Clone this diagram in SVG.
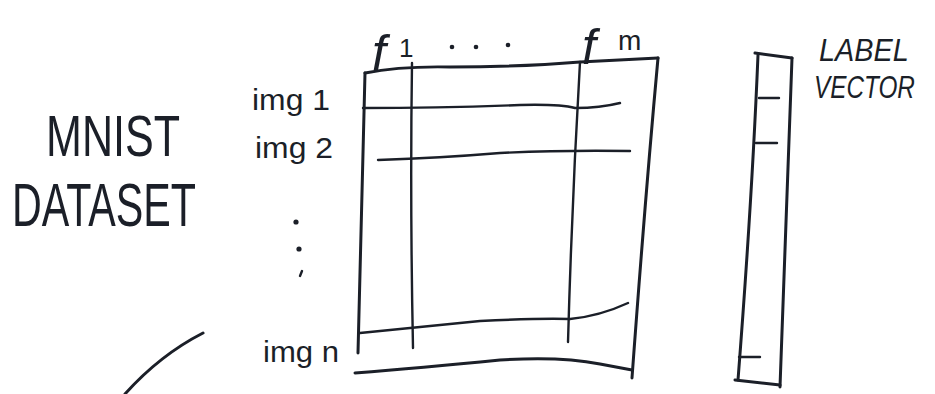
<svg xmlns="http://www.w3.org/2000/svg" width="935" height="394" viewBox="0 0 935 394">
<style>
.ink{fill:none;stroke:#1b1f28;stroke-width:3;stroke-linecap:round;stroke-linejoin:round}
.thin{fill:none;stroke:#1b1f28;stroke-width:2.4;stroke-linecap:round}
.t{fill:#1b1f28;font-family:"Liberation Sans","DejaVu Sans",sans-serif}
.hand{fill:#1b1f28;font-family:"Liberation Sans Narrow","Liberation Sans",sans-serif}
</style>
<rect width="935" height="394" fill="#ffffff"/>
<g id="title">
  <text class="hand" x="46" y="156" font-size="58" textLength="134" lengthAdjust="spacingAndGlyphs">MNIST</text>
  <text class="hand" x="12" y="226" font-size="62" textLength="184" lengthAdjust="spacingAndGlyphs">DATASET</text>
</g>
<g id="matrix">
  <path class="ink" d="M365 73 Q400 66 450 67 Q520 67 580 62 L658 58"/>
  <path class="ink" d="M365 73 Q362 200 358 353"/>
  <path class="ink" d="M658 58 Q645 200 632 378"/>
  <path class="ink" d="M355 373 Q420 368 500 360 Q560 356 600 364 L632 370"/>
  <path class="thin" d="M412 63 Q410 200 413 348"/>
  <path class="thin" d="M580 62 Q572 200 568 342"/>
  <path class="thin" d="M363 108 Q440 108 520 105 Q560 104 575 108 Q600 108 620 103"/>
  <path class="thin" d="M378 160 Q440 158 500 153 Q560 150 630 151"/>
  <path class="thin" d="M360 333 Q420 327 480 321 Q540 318 570 319 Q600 316 628 303"/>
  <text class="t" x="372" y="70" font-size="50" font-style="italic" font-family="Liberation Serif">f</text>
  <text class="t" x="399" y="57" font-size="26">1</text>
  <circle cx="452" cy="47" r="2.3" fill="#1b1f28"/>
  <circle cx="476" cy="47" r="2.3" fill="#1b1f28"/>
  <circle cx="508" cy="45" r="2.3" fill="#1b1f28"/>
  <text class="t" x="582" y="64" font-size="50" font-style="italic" font-family="Liberation Serif">f</text>
  <text class="t" x="618" y="50" font-size="28">m</text>
  <text class="t" x="252" y="110" font-size="29" textLength="78" lengthAdjust="spacingAndGlyphs">img 1</text>
  <text class="t" x="255" y="158" font-size="29" textLength="78" lengthAdjust="spacingAndGlyphs">img 2</text>
  <circle cx="296" cy="222" r="2.6" fill="#1b1f28"/>
  <circle cx="299" cy="249" r="2.6" fill="#1b1f28"/>
  <path class="thin" d="M302 271 L300 276"/>
  <text class="t" x="263" y="362" font-size="29" textLength="76" lengthAdjust="spacingAndGlyphs">img n</text>
</g>
<g id="label-vector">
  <path class="ink" d="M755 53 L792 58"/>
  <path class="ink" d="M758 55 Q752 200 738 380"/>
  <path class="ink" d="M792 58 Q786 220 780 387"/>
  <path class="ink" d="M735 380 L780 385"/>
  <path class="thin" d="M759 98 L779 98"/>
  <path class="thin" d="M756 143 L777 143"/>
  <path class="thin" d="M739 357 L760 357"/>
  <text class="hand" transform="translate(819 61) scale(0.9 1)" font-size="32" font-style="italic">LABEL</text>
  <text class="hand" transform="translate(814 98) scale(0.76 1)" font-size="32" font-style="italic">VECTOR</text>
</g>
<g id="connectors">
  <path class="ink" d="M203 333 Q160 355 125 394"/>
</g>
</svg>
